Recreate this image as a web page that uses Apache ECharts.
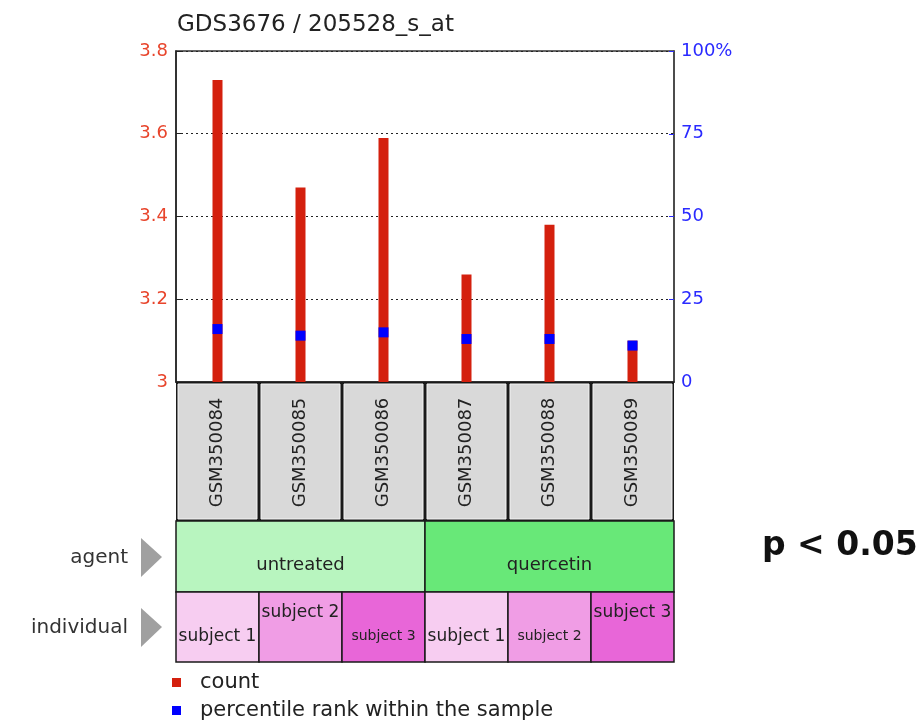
<!DOCTYPE html>
<html>
<head>
<meta charset="utf-8">
<script src="https://cdn.jsdelivr.net/npm/echarts@6/dist/echarts.min.js"></script>
<style>html,body{margin:0;padding:0;background:#fff}#c{width:923px;height:725px}</style>
</head>
<body>
<div id="c"></div>
<script>
// ---- data ----
const chartTitle = 'GDS3676 / 205528_s_at';
const categories = ['GSM350084','GSM350085','GSM350086','GSM350087','GSM350088','GSM350089'];
const countValues = [3.73, 3.47, 3.59, 3.26, 3.38, 3.10];
const percentileValues = [16, 14, 15, 13, 13, 11];
const agentValues = ['untreated','untreated','untreated','quercetin','quercetin','quercetin'];
const individualValues = ['subject 1','subject 2','subject 3','subject 1','subject 2','subject 3'];
const leftAxisRange = [3, 3.8, 0.2];
const rightAxisRange = [0, 100, 25];
const seriesNames = ['count', 'percentile rank within the sample'];
const rowNames = ['agent', 'individual'];
const noteText = 'p < 0.05';

// ---- styles ----
const FONT = 'DejaVu Sans';
const agentColors = {untreated:'#b8f5bf', quercetin:'#68e878'};
const subjectColors = {'subject 1':'#f7cdf1', 'subject 2':'#f09de5', 'subject 3':'#e866d8'};
const individualLabelStyle = ['low','high','lowSmall','low','lowSmall','high'];

// group consecutive agents into spans
const agentSpans = [];
agentValues.forEach((a, i) => {
  const last = agentSpans[agentSpans.length - 1];
  if (last && last.name === a) last.end = i + 1;
  else agentSpans.push({name: a, start: i, end: i + 1});
});

const L = 176, R = 923 - 674;
const chart = echarts.init(document.getElementById('c'));

function cellRect(api, a, b) {
  const p0 = api.coord([a, 1]), p1 = api.coord([b, 0]);
  return {x: p0[0], y: p0[1], w: p1[0] - p0[0], h: p1[1] - p0[1]};
}

const option = {
  animation: false,
  title: {
    text: chartTitle, left: 172, top: 9,
    textStyle: {fontFamily: FONT, fontSize: 23, fontWeight: 'normal', color: '#222'}
  },
  legend: {
    orient: 'vertical', left: 172, top: 672, height: 60, padding: 0,
    itemWidth: 9, itemHeight: 9, itemGap: 7,
    icon: 'rect', selectedMode: false,
    textStyle: {fontFamily: FONT, fontSize: 21, color: '#222', padding: [0, 0, 0, 14]},
    data: seriesNames
  },
  grid: [
    {left: L, right: R, top: 51, height: 331, show: true, borderColor: '#333', borderWidth: 1.5, containLabel: false},
    {left: L, right: R, top: 382, height: 139},
    {left: L, right: R, top: 521, height: 71},
    {left: L, right: R, top: 592, height: 70}
  ],
  xAxis: [
    {type: 'category', gridIndex: 0, data: categories,
     axisLine: {lineStyle: {color: '#222', width: 1.5}},
     axisTick: {show: true, alignWithLabel: true, length: 3, lineStyle: {color: '#661010', width: 2}},
     axisLabel: {show: false}, splitLine: {show: false}},
    {type: 'value', gridIndex: 1, min: 0, max: 6, show: false},
    {type: 'value', gridIndex: 2, min: 0, max: 6, show: false},
    {type: 'value', gridIndex: 3, min: 0, max: 6, show: false}
  ],
  yAxis: [
    {type: 'value', gridIndex: 0, min: leftAxisRange[0], max: leftAxisRange[1], interval: leftAxisRange[2],
     axisLine: {show: true, lineStyle: {color: '#222', width: 1.5}},
     axisTick: {show: true, inside: true, length: 5, lineStyle: {color: '#222'}},
     axisLabel: {color: '#e8452c', fontFamily: FONT, fontSize: 18, margin: 8,
                 formatter: v => String(parseFloat(v.toFixed(1)))},
     splitLine: {show: true, lineStyle: {type: [2, 3], color: '#222', width: 1}}},
    {type: 'value', gridIndex: 0, position: 'right', min: rightAxisRange[0], max: rightAxisRange[1], interval: rightAxisRange[2],
     axisLine: {show: true, lineStyle: {color: '#444', width: 1.5}},
     axisTick: {show: true, inside: true, length: 5, lineStyle: {color: '#2a2aff'}},
     axisLabel: {color: '#2a2aff', fontFamily: FONT, fontSize: 18, margin: 7,
                 formatter: v => v === 100 ? '100%' : String(v)},
     splitLine: {show: false}},
    {type: 'value', gridIndex: 1, min: 0, max: 1, show: false},
    {type: 'value', gridIndex: 2, min: 0, max: 1, show: false},
    {type: 'value', gridIndex: 3, min: 0, max: 1, show: false}
  ],
  series: [
    {name: seriesNames[0], type: 'bar', xAxisIndex: 0, yAxisIndex: 0, data: countValues,
     barWidth: 10, itemStyle: {color: '#d4200e'}, clip: true, z: 2},
    {name: seriesNames[1], type: 'scatter', xAxisIndex: 0, yAxisIndex: 1, data: percentileValues,
     symbol: 'rect', symbolSize: [10, 10], itemStyle: {color: '#0000ff', opacity: 1}, z: 3},
    {type: 'custom', xAxisIndex: 1, yAxisIndex: 2, silent: true,
     data: categories.map((c, i) => [i, i + 1]),
     renderItem: (params, api) => {
       const r = cellRect(api, api.value(0), api.value(1));
       return {type: 'group', children: [
         {type: 'rect', shape: {x: r.x, y: r.y, width: r.w, height: r.h}, style: {fill: '#1a1a1a'}},
         {type: 'rect', shape: {x: r.x + 2, y: r.y + 2, width: r.w - 4, height: r.h - 4},
          style: {fill: '#d9d9d9', stroke: '#f4f4f4', lineWidth: 1}},
         {type: 'text', x: r.x + r.w / 2, y: r.y + r.h / 2 + 1, rotation: Math.PI / 2,
          style: {text: categories[params.dataIndex], x: 0, y: 0, align: 'center', verticalAlign: 'middle',
                  fill: '#222', font: '18px "' + FONT + '"'}}
       ]};
     }},
    {type: 'custom', xAxisIndex: 2, yAxisIndex: 3, silent: true,
     data: agentSpans.map(s => [s.start, s.end]),
     renderItem: (params, api) => {
       const r = cellRect(api, api.value(0), api.value(1));
       const s = agentSpans[params.dataIndex];
       return {type: 'group', children: [
         {type: 'rect', shape: {x: r.x, y: r.y, width: r.w, height: r.h},
          style: {fill: agentColors[s.name], stroke: '#1a1a1a', lineWidth: 1.5}},
         {type: 'text', x: r.x + r.w / 2, y: r.y + r.h * 0.62,
          style: {text: s.name, align: 'center', verticalAlign: 'middle', fill: '#222', font: '18px "' + FONT + '"'}}
       ]};
     }},
    {type: 'custom', xAxisIndex: 3, yAxisIndex: 4, silent: true,
     data: individualValues.map((v, i) => [i, i + 1]),
     renderItem: (params, api) => {
       const r = cellRect(api, api.value(0), api.value(1));
       const name = individualValues[params.dataIndex];
       const st = individualLabelStyle[params.dataIndex];
       const fy = st === 'high' ? 0.29 : 0.64;
       const fs = st === 'lowSmall' ? 14 : 17;
       return {type: 'group', children: [
         {type: 'rect', shape: {x: r.x, y: r.y, width: r.w, height: r.h},
          style: {fill: subjectColors[name], stroke: '#1a1a1a', lineWidth: 1.5}},
         {type: 'text', x: r.x + r.w / 2, y: r.y + r.h * fy,
          style: {text: name, align: 'center', verticalAlign: 'middle', fill: '#222', font: fs + 'px "' + FONT + '"'}}
       ]};
     }}
  ],
  graphic: [
    {type: 'text', x: 128, y: 558,
     style: {text: rowNames[0], align: 'right', verticalAlign: 'middle', fill: '#333', font: '20px "' + FONT + '"'}},
    {type: 'polygon', shape: {points: [[141, 538], [162, 557], [141, 577]]}, style: {fill: '#a0a0a0'}},
    {type: 'text', x: 128, y: 628,
     style: {text: rowNames[1], align: 'right', verticalAlign: 'middle', fill: '#333', font: '20px "' + FONT + '"'}},
    {type: 'polygon', shape: {points: [[141, 608], [162, 627], [141, 647]]}, style: {fill: '#a0a0a0'}},
    {type: 'text', x: 762, y: 546,
     style: {text: noteText, align: 'left', verticalAlign: 'middle', fill: '#111', font: 'bold 33px "DejaVu Sans"'}}
  ]
};
chart.setOption(option);
</script>
</body>
</html>
